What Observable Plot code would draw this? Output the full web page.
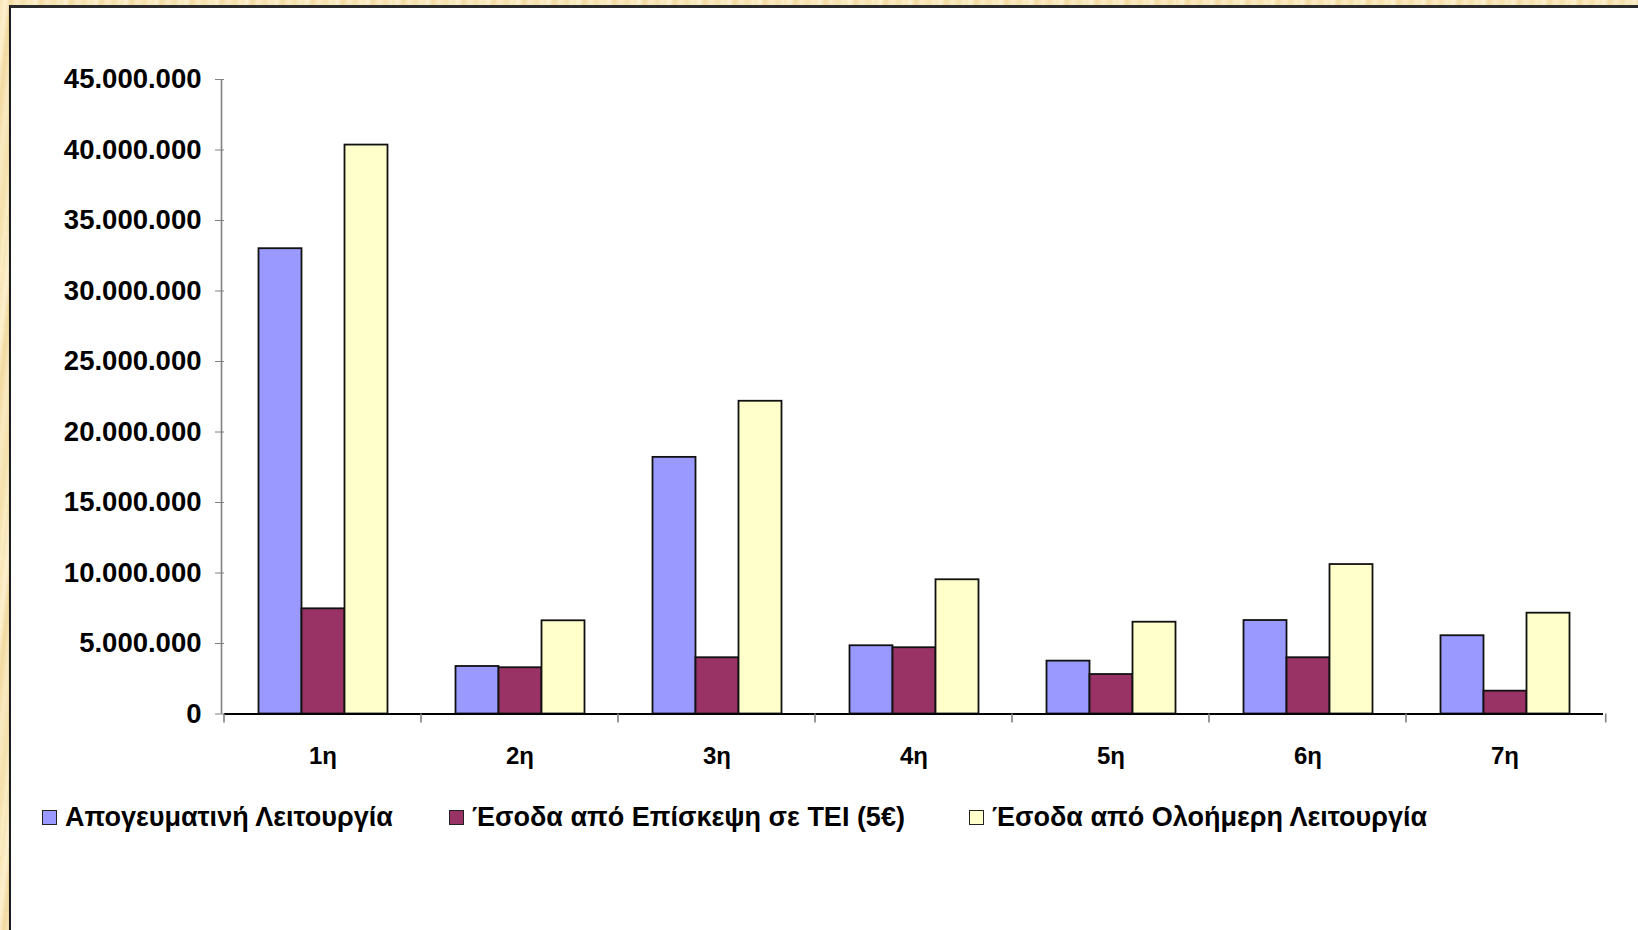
<!DOCTYPE html>
<html>
<head>
<meta charset="utf-8">
<script src="https://cdn.jsdelivr.net/npm/d3@7"></script>
<script src="https://cdn.jsdelivr.net/npm/@observablehq/plot@0.6"></script>
<style>
  html, body { margin: 0; padding: 0; }
  body {
    width: 1638px; height: 930px; overflow: hidden; position: relative;
    font-family: "Liberation Sans", Arial, sans-serif;
    background: repeating-linear-gradient(96deg, #f7e5b5 0px, #fcf0cf 6px, #f1d9a0 11px, #faeac2 17px, #f4e0ab 24px, #fbeec9 30px);
  }
  #panel {
    position: absolute; left: 9px; top: 5px; right: 0; bottom: 0;
    background: #fff; border-left: 2px solid #1c1c1c; border-top: 3px solid #2a2a2a;
    box-shadow: 0 1px 1px rgba(0,0,0,0.25);
  }
  #chart { position: absolute; left: 0; top: 0; }
  #chart svg { overflow: visible; }
  #legend {
    position: absolute; left: 0; top: 800px; width: 1638px; height: 34px;
    font-weight: bold; font-size: 27px; color: #000; white-space: nowrap;
  }
  .item { position: absolute; top: 0; display: flex; align-items: center; gap: 8px; height: 34px; }
  .sw { width: 15px; height: 15px; box-sizing: border-box; border: 1.6px solid #222; }
</style>
</head>
<body>
<div id="panel"></div>
<div id="chart"></div>
<div id="legend"></div>
<script>
// ---- data ----
const categories = ["1η", "2η", "3η", "4η", "5η", "6η", "7η"];
const seriesNames = [
  "Απογευματινή Λειτουργία",
  "Έσοδα από Επίσκεψη σε ΤΕΙ (5€)",
  "Έσοδα από Ολοήμερη Λειτουργία"
];
const afternoon = [33000000, 3370000, 18200000, 4840000, 3750000, 6630000, 5550000];
const visits    = [7460000, 3280000, 3990000, 4700000, 2800000, 3990000, 1620000];
const allDay    = [40350000, 6610000, 22180000, 9520000, 6510000, 10600000, 7150000];
const seriesColors = ["#9999ff", "#993366", "#ffffcc"];
const yTicks = [0, 5000000, 10000000, 15000000, 20000000, 25000000, 30000000, 35000000, 40000000, 45000000];
const legendLeft = [42, 449, 969]; // legend item positions (px)

// ---- table ----
const seriesValues = [afternoon, visits, allDay];
const rows = categories.flatMap((cat, i) =>
  seriesNames.map((s, k) => ({cat, series: s, value: seriesValues[k][i]})));

const locale = d3.formatLocale({decimal: ",", thousands: ".", grouping: [3], currency: ["", "€"]});
const fmt = locale.format(",d");
const FONT = "'Liberation Sans', Arial, sans-serif";

const plot = Plot.plot({
  width: 1638,
  height: 780,
  marginLeft: 221.5,
  marginRight: 32.3,
  marginTop: 79,
  marginBottom: 66.5,
  style: {fontFamily: FONT, background: "transparent", color: "#000", overflow: "visible"},
  fx: {domain: categories, padding: 0, label: null},
  x: {domain: seriesNames, paddingInner: 0, paddingOuter: 0.77, axis: null},
  y: {domain: [0, 45000000], label: null},
  color: {domain: seriesNames, range: seriesColors},
  marks: [
    Plot.barY(rows, {fx: "cat", x: "series", y: "value", fill: "series", stroke: "#111", strokeWidth: 1.8}),
    Plot.ruleY([0], {stroke: "#000", strokeWidth: 1.8}),
    Plot.axisY({ticks: yTicks, tickFormat: fmt, tickSize: 9, tickPadding: 14, stroke: "#808080", fill: "#000",
      fontSize: 27.5, fontWeight: "bold", label: null}),
    Plot.axisFx({anchor: "bottom", tickSize: 0, tickPadding: 33, fill: "#000", fontSize: 24, fontWeight: "bold", label: null})
  ]
});

document.getElementById("chart").appendChild(plot);

// boundary ticks on x-axis and y-axis line, from Plot's own scales
const svg = d3.select(plot.tagName.toLowerCase() === "svg" ? plot : plot.querySelector("svg"));
const fxS = plot.scale("fx"), yS = plot.scale("y");
const yApply = v => (yS.apply ? yS.apply(v) : d3.scaleLinear(yS.domain, yS.range)(v));
const fxApply = c => (fxS.apply ? fxS.apply(c) : d3.scaleBand(fxS.domain, fxS.range)(c));
const r0 = Math.min(...fxS.range), r1 = Math.max(...fxS.range);
const bounds = [...categories.map(fxApply), r1];
const g = svg.append("g");
g.append("line")
  .attr("x1", r0).attr("x2", r0)
  .attr("y1", yApply(45000000)).attr("y2", yApply(0))
  .attr("stroke", "#808080").attr("stroke-width", 1.6);
g.selectAll("line.bt").data(bounds).join("line").attr("class", "bt")
  .attr("x1", d => d).attr("x2", d => d)
  .attr("y1", yApply(0)).attr("y2", yApply(0) + 9)
  .attr("stroke", "#808080").attr("stroke-width", 1.6);

svg.selectAll("text").style("font-weight", "bold");

// legend
const legend = d3.select("#legend");
seriesNames.forEach((s, k) => {
  const it = legend.append("div").attr("class", "item").style("left", legendLeft[k] + "px");
  it.append("div").attr("class", "sw").style("background", seriesColors[k]);
  it.append("span").text(s);
});
</script>
</body>
</html>
